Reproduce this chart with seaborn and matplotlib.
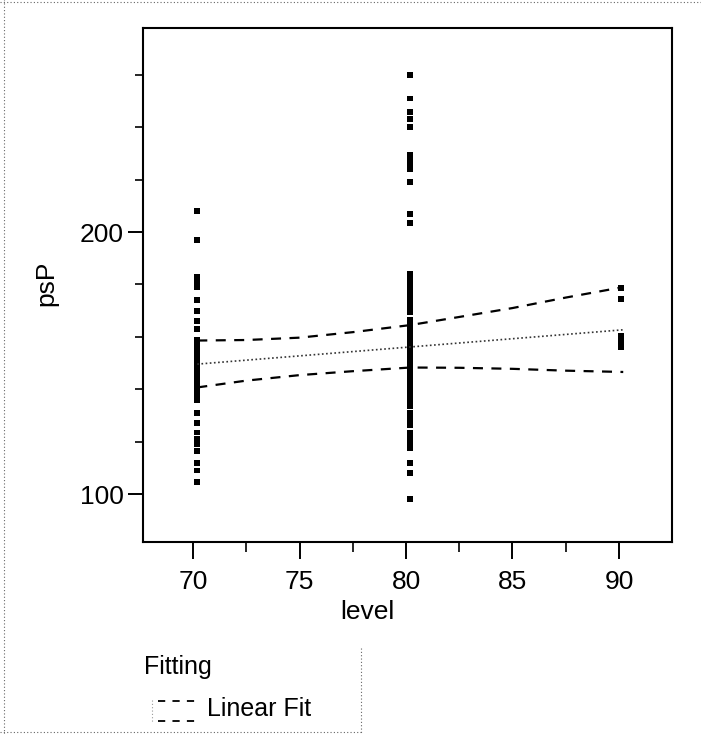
"""
psP vs level with a linear fit and its confidence curves
"""

import matplotlib
matplotlib.use("Agg")
import matplotlib.pyplot as plt
from matplotlib.lines import Line2D
from matplotlib.ticker import MultipleLocator
import seaborn as sns
import pandas as pd

# measured psP values, one list per level column
psp_70 = [208, 197, 183, 181, 179, 174, 170, 166, 163,
          159, 158, 156.5, 155, 154, 152.5, 151, 150, 148, 147, 145.5,
          144, 142.5, 141, 140, 138.5, 137, 136,
          131, 127, 123.5, 121, 119, 116.5, 112, 109, 104.5]
psp_80 = [260, 251, 246, 243, 240, 229.5, 228, 226, 224, 219, 207, 203.5,
          184, 182, 180.5, 179, 177.5, 176, 174, 172.5, 171, 169.5,
          166.5, 165, 163.5, 162, 160.5, 159, 157.5, 156, 154.5, 153,
          151.5, 150, 148.5, 147, 145.5, 144, 142.5, 141, 139.5, 138,
          136.5, 135, 133.5,
          131, 129.5, 128, 126.5, 123.5, 122, 120.5, 119, 117.5,
          112, 108, 98]
psp_90 = [178.5, 174.5, 160.5, 159, 157.5, 156]
levels = [70.2, 80.2, 90.1]

# linear fit and confidence curves
fit_level = [70.2, 72.5, 75, 77.5, 80.2, 82.5, 85, 87.5, 90.2]
fit_upper = [158.6, 158.8, 159.7, 161.8, 164.5, 167.6, 171.0, 175.0, 179.0]
fit_lower = [140.7, 143.3, 145.4, 146.9, 148.3, 148.2, 147.8, 147.1, 146.6]
mean_level = [70.2, 90.2]
fit_mean = [149.6, 162.7]

points = pd.DataFrame({
    "level": [levels[0]] * len(psp_70) + [levels[1]] * len(psp_80)
             + [levels[2]] * len(psp_90),
    "psP": psp_70 + psp_80 + psp_90,
})
band = pd.DataFrame({"level": fit_level, "upper": fit_upper, "lower": fit_lower})
mean_df = pd.DataFrame({"level": mean_level, "mean": fit_mean})

sns.set_style("ticks")
plt.rcParams["font.family"] = ["Liberation Sans", "DejaVu Sans"]
plt.rcParams["text.color"] = "black"
plt.rcParams["axes.labelcolor"] = "black"

W, H = 701, 734
fig = plt.figure(figsize=(W / 100, H / 100), dpi=100)
ax = fig.add_axes([143 / W, (H - 542) / H, (672 - 143) / W, (542 - 28) / H])

sns.scatterplot(data=points, x="level", y="psP", ax=ax, marker="s", s=18,
                color="black", edgecolor="none", linewidth=0, zorder=3)
sns.lineplot(data=band, x="level", y="upper", ax=ax, color="black",
             linewidth=1.6, linestyle=(0, (4.5, 3.8)), zorder=4)
sns.lineplot(data=band, x="level", y="lower", ax=ax, color="black",
             linewidth=1.6, linestyle=(0, (4.5, 3.8)), zorder=4)
sns.lineplot(data=mean_df, x="level", y="mean", ax=ax, color="#333333",
             linewidth=1.2, linestyle=(0, (1, 1.5)), zorder=4)

ax.set_xlim(67.65, 92.49)
ax.set_ylim(81.7, 277.9)
ax.xaxis.set_major_locator(MultipleLocator(5))
ax.xaxis.set_minor_locator(MultipleLocator(2.5))
ax.yaxis.set_major_locator(MultipleLocator(100))
ax.yaxis.set_minor_locator(MultipleLocator(20))

for side in ["left", "right", "top", "bottom"]:
    ax.spines[side].set_visible(True)
    ax.spines[side].set_color("black")
    ax.spines[side].set_linewidth(1.5)

ax.tick_params(axis="x", which="major", length=12, width=1.4, pad=8,
               labelsize=19, colors="black")
ax.tick_params(axis="x", which="minor", length=7, width=1.4)
ax.tick_params(axis="y", which="major", length=11, width=1.4, pad=3,
               labelsize=19, colors="black")
ax.tick_params(axis="y", which="minor", length=6, width=1.4)

ax.set_xlabel("level", fontsize=19)
ax.set_ylabel("psP", fontsize=19)
ax.xaxis.set_label_coords(0.425, -0.113)
ax.yaxis.set_label_coords(-0.16, 0.504)

# legend block below the plot
fig.text(144 / W, 1 - 655 / H, "Fitting", fontsize=18, va="top", ha="left")
fig.text(207 / W, 1 - 697 / H, "Linear Fit", fontsize=18, va="top", ha="left")
for yy in (701, 721):
    fig.add_artist(Line2D([158 / W, 196 / W], [1 - yy / H, 1 - yy / H],
                          color="black", linewidth=1.3,
                          linestyle=(0, (4, 4))))
fig.add_artist(Line2D([152 / W, 152 / W], [1 - 700 / H, 1 - 722 / H],
                      color="#999999", linewidth=0.8, linestyle=(0, (1, 2))))

# dotted panel borders
dot = dict(color="#666666", linewidth=0.8, linestyle=(0, (1, 2)))
fig.add_artist(Line2D([4 / W, 4 / W], [0, 1], **dot))
fig.add_artist(Line2D([0, 1], [1 - 2 / H, 1 - 2 / H], **dot))
fig.add_artist(Line2D([361 / W, 361 / W], [1 - 648 / H, 0], **dot))
fig.add_artist(Line2D([0, 361 / W], [1 - 732 / H, 1 - 732 / H], **dot))

fig.savefig("out.png", dpi=100)
